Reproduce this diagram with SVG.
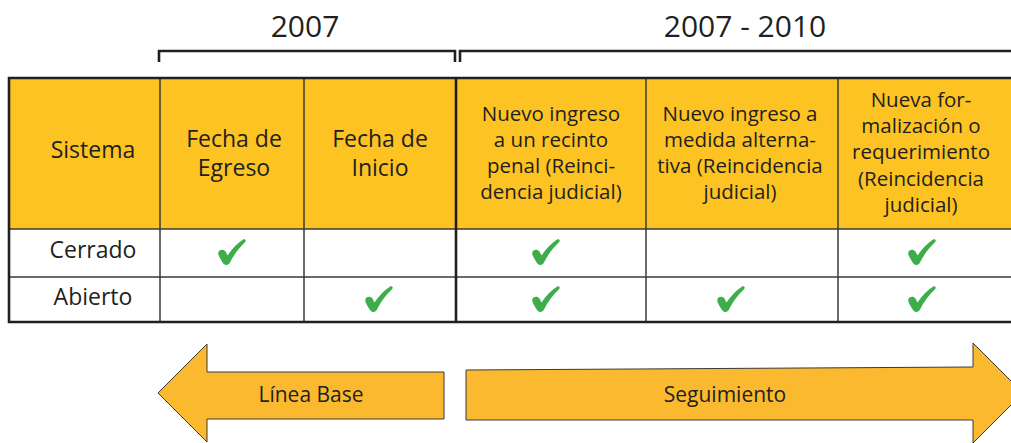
<svg xmlns="http://www.w3.org/2000/svg" xmlns:xlink="http://www.w3.org/1999/xlink" width="1011" height="443" viewBox="0 0 1011 443">
<style>
  text { font-family: "Open Sans", "Noto Sans", "DejaVu Sans", sans-serif; fill: #231f20; text-anchor: middle; }
  .year { font-size: 30px; }
  .big { font-size: 23px; }
  .small { font-size: 20.5px; }
  .arrowtxt { font-size: 21px; }
  .hdr { fill: #fcc323; }
  .thin { stroke: #3a3a3a; stroke-width: 1.5; fill: none; }
  .thick { stroke: #231f20; stroke-width: 2.6; fill: none; }
  .arrow { fill: #fbb92f; stroke: #3a3a3a; stroke-width: 1; }
  .chk { fill: #3dae49; }
</style>
<defs>
  <path id="chk" d="M0.5,13 C1.5,10.5 5.5,10 7.5,12.5 L9.5,16.5 C14,9.5 20,4 25.5,0.3 C27.5,-0.5 28.5,1.8 27,3.2 C21,9 15.5,16 12,23.5 C10.8,26 8,26.8 5.8,25 C3.5,22 1.5,18.5 0.5,16 C0.1,15 0.1,14 0.5,13 Z"/>
</defs>
<rect width="1011" height="443" fill="#ffffff"/>

<g id="period-labels">
  <text class="year" x="305" y="37">2007</text>
  <text class="year" x="745" y="37">2007 - 2010</text>
</g>

<g id="connectors">
  <path class="thick" d="M159,62 V51 H455 V62"/>
  <path class="thick" d="M460,62 V51 H1011"/>
</g>

<g id="table">
  <rect class="hdr" x="9" y="78" width="1002" height="151"/>
  <rect x="9" y="229" width="1002" height="93" fill="#ffffff"/>
  <path class="thin" d="M9,229 H1011 M9,277 H1011 M160,78 V322 M304,78 V322 M646,78 V322 M838,78 V322"/>
  <path class="thick" d="M1011,78 H9 V322 H1011 M456,78 V322"/>
</g>

<g id="h-sistema"><text class="big" x="93" y="158">Sistema</text></g>
<g id="h-egreso">
  <text class="big" x="234" y="147">Fecha de</text>
  <text class="big" x="234" y="176">Egreso</text>
</g>
<g id="h-inicio">
  <text class="big" x="380" y="147">Fecha de</text>
  <text class="big" x="380" y="176">Inicio</text>
</g>
<g id="h-recinto">
  <text class="small" x="551" y="121">Nuevo ingreso</text>
  <text class="small" x="551" y="147">a un recinto</text>
  <text class="small" x="551" y="173">penal (Reinci-</text>
  <text class="small" x="551" y="199">dencia judicial)</text>
</g>
<g id="h-medida">
  <text class="small" x="740" y="121">Nuevo ingreso a</text>
  <text class="small" x="740" y="147">medida alterna-</text>
  <text class="small" x="740" y="173">tiva (Reincidencia</text>
  <text class="small" x="740" y="199">judicial)</text>
</g>
<g id="h-formalizacion">
  <text class="small" x="921" y="107">Nueva for-</text>
  <text class="small" x="921" y="133">malización o</text>
  <text class="small" x="921" y="159">requerimiento</text>
  <text class="small" x="921" y="186">(Reincidencia</text>
  <text class="small" x="921" y="212">judicial)</text>
</g>

<g id="r-cerrado"><text class="big" x="93" y="258">Cerrado</text></g>
<g id="r-abierto"><text class="big" x="93" y="305">Abierto</text></g>

<g id="checks" class="chk">
  <use xlink:href="#chk" href="#chk" transform="translate(218,239)"/>
  <use xlink:href="#chk" href="#chk" transform="translate(365,286)"/>
  <use xlink:href="#chk" href="#chk" transform="translate(532,239)"/>
  <use xlink:href="#chk" href="#chk" transform="translate(532,286)"/>
  <use xlink:href="#chk" href="#chk" transform="translate(717,286)"/>
  <use xlink:href="#chk" href="#chk" transform="translate(908,239)"/>
  <use xlink:href="#chk" href="#chk" transform="translate(908,286)"/>
</g>

<g id="linea-base">
  <path class="arrow" d="M158,393 L207,344 V372 H444 V419 H207 V442 Z"/>
  <text class="arrowtxt" x="311" y="402">Línea Base</text>
</g>
<g id="seguimiento">
  <path class="arrow" d="M466,370 L973,367 V343 L1023,393 L973,443 V420 H466 Z"/>
  <text class="arrowtxt" x="725" y="402">Seguimiento</text>
</g>
</svg>
